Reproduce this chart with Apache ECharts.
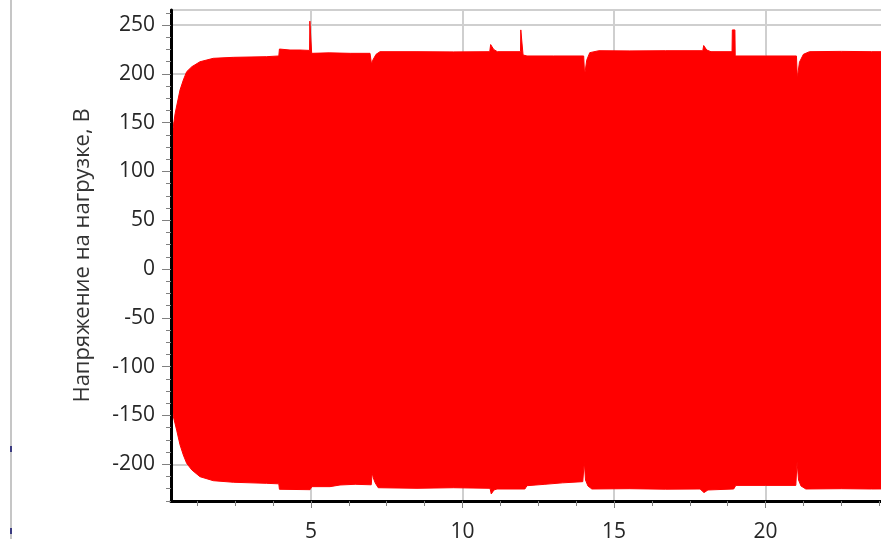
<!DOCTYPE html>
<html><head><meta charset="utf-8">
<script src="https://cdn.jsdelivr.net/npm/echarts@6/dist/echarts.min.js"></script>
<style>html,body{margin:0;padding:0;background:#fff}#c{width:881px;height:539px}</style>
</head><body><div id="c"></div>
<script>
// tick labels
const xTicks = [5, 10, 15, 20];
const yTicks = [-200, -150, -100, -50, 0, 50, 100, 150, 200, 250];
const yName = 'Напряжение на нагрузке, В';

// upper envelope of the load voltage (s, V)
const upperT = [0.383, 0.41, 0.52, 0.68, 0.79, 0.90, 1.07, 1.34, 1.78, 2.44, 3.54, 3.94, 3.96, 4.31, 4.64, 4.955, 4.965, 5.015, 5.025, 5.6, 6.3, 6.95, 7.0, 7.04, 7.15, 7.28, 8.5, 9.7, 10.9, 10.93, 10.98, 11.03, 11.15, 11.915, 11.925, 11.99, 12.0, 12.13, 13.0, 14.0, 14.03, 14.06, 14.1, 14.2, 14.5, 15.5, 16.7, 17.93, 17.96, 18.0, 18.06, 18.2, 18.895, 18.905, 18.99, 19.0, 20.0, 21.02, 21.05, 21.08, 21.12, 21.25, 21.45, 22.5, 23.5, 25.13];
const upperV = [127, 135, 159.5, 183.4, 193.7, 202.2, 207.3, 212.4, 215.9, 216.9, 217.6, 218.3, 225.4, 224.4, 224.4, 224, 254, 254, 221, 221.5, 221, 221, 209.7, 214, 220, 222.7, 222.7, 222.5, 222.7, 230, 230, 225, 222.7, 222.7, 245, 245, 219.3, 218.3, 218.3, 218.3, 199, 205, 214, 221.7, 223.7, 223.5, 223.7, 223.7, 229, 229, 224.4, 222.7, 222.7, 245, 245, 218.3, 218.3, 218.3, 194.6, 203, 212, 220, 222.7, 223, 222.7, 222.7];

// lower envelope of the load voltage (s, V)
const lowerT = [0.383, 0.41, 0.46, 0.57, 0.68, 0.79, 0.90, 1.07, 1.34, 1.78, 2.44, 3.54, 3.94, 3.96, 4.97, 5.03, 5.63, 5.96, 6.46, 6.99, 7.02, 7.06, 7.12, 7.22, 8.5, 9.7, 10.91, 10.95, 11.0, 11.04, 11.14, 12.06, 12.13, 12.72, 13.3, 13.97, 14.02, 14.06, 14.14, 14.27, 15.5, 16.7, 17.84, 17.97, 18.03, 18.1, 18.95, 19.02, 20.0, 21.0, 21.04, 21.09, 21.17, 21.33, 22.5, 23.5, 25.13];
const lowerV = [-125, -127, -151, -165, -180, -190.5, -199, -205.8, -212.7, -216.8, -218.4, -219.5, -220, -225.6, -226, -222.9, -222.9, -221.2, -220.5, -221, -208.6, -214, -219, -224, -224.6, -224, -224.6, -230.4, -230, -226.3, -225.3, -225.3, -221.9, -220.5, -219, -217.8, -197.3, -216.1, -222.2, -225.3, -225, -225.5, -225.3, -229, -229, -226.3, -225.3, -221.6, -221.6, -221.6, -197.3, -216.1, -222.2, -225.3, -225, -225.3, -225];

const font = '"Open Sans", "Noto Sans", sans-serif';
const xMin = 0.383, xMax = 25.13, yMin = -237.6, yMax = 265.4;

const upperData = upperT.map((t, i) => [t, upperV[i]]);
const lowerData = lowerT.map((t, i) => [t, lowerV[i]]);

const chart = echarts.init(document.getElementById('c'), null, {renderer: 'canvas'});
chart.setOption({
  animation: false,
  backgroundColor: '#ffffff',
  grid: {left: 171, top: 10, right: -40, bottom: 38, show: true, borderColor: '#9a9a9a', borderWidth: 2,
         backgroundColor: 'transparent', containLabel: false, outerBoundsMode: 'none'},
  xAxis: [
    {type: 'value', min: xMin, max: xMax, splitNumber: 5, position: 'bottom', z: 0,
     axisLine: {show: false, onZero: false}, axisTick: {show: false}, axisLabel: {show: false},
     splitLine: {show: true, lineStyle: {color: '#cfcfcf', width: 2}}},
    {type: 'value', min: xMin, max: xMax, splitNumber: 5, position: 'bottom', z: 10,
     axisLine: {show: true, onZero: false, lineStyle: {color: '#000', width: 3}},
     axisTick: {show: true, customValues: xTicks, length: 7, lineStyle: {color: '#808080', width: 1}},
     minorTick: {show: true, splitNumber: 4, length: 5, lineStyle: {color: '#808080', width: 1}},
     axisLabel: {show: true, customValues: xTicks, margin: 21, fontSize: 21, color: '#262626', fontFamily: font},
     splitLine: {show: false}}
  ],
  yAxis: [
    {type: 'value', min: yMin, max: yMax, splitNumber: 10, position: 'left', z: 0,
     axisLine: {show: false, onZero: false}, axisTick: {show: false}, axisLabel: {show: false},
     splitLine: {show: true, lineStyle: {color: '#cfcfcf', width: 2}}},
    {type: 'value', min: yMin, max: yMax, splitNumber: 10, position: 'left', z: 10,
     name: yName, nameLocation: 'middle', nameRotate: 90, nameGap: 77,
     nameTextStyle: {fontSize: 22, color: '#333', fontFamily: font},
     axisLine: {show: true, onZero: false, lineStyle: {color: '#000', width: 3}},
     axisTick: {show: true, customValues: yTicks, length: 9, lineStyle: {color: '#808080', width: 1}},
     minorTick: {show: true, splitNumber: 4, length: 5, lineStyle: {color: '#808080', width: 1}},
     axisLabel: {show: true, customValues: yTicks, margin: 16, fontSize: 21, color: '#262626', fontFamily: font},
     splitLine: {show: false}}
  ],
  series: [
    {type: 'line', xAxisIndex: 0, yAxisIndex: 0, data: upperData, showSymbol: false, symbol: 'none',
     lineStyle: {color: '#ff0000', width: 1}, areaStyle: {color: '#ff0000', opacity: 1, origin: -10}, z: 2},
    {type: 'line', xAxisIndex: 0, yAxisIndex: 0, data: lowerData, showSymbol: false, symbol: 'none',
     lineStyle: {color: '#ff0000', width: 1}, areaStyle: {color: '#ff0000', opacity: 1, origin: 10}, z: 2}
  ],
  graphic: [
    {type: 'line', shape: {x1: 11, y1: 0, x2: 11, y2: 539}, style: {stroke: '#c6c6c6', lineWidth: 2}, silent: true},
    {type: 'rect', shape: {x: 10, y: 446, width: 2, height: 6}, style: {fill: '#3b3b80'}, silent: true},
    {type: 'rect', shape: {x: 10, y: 528, width: 2, height: 6}, style: {fill: '#3b3b80'}, silent: true}
  ]
});
</script>
</body></html>
